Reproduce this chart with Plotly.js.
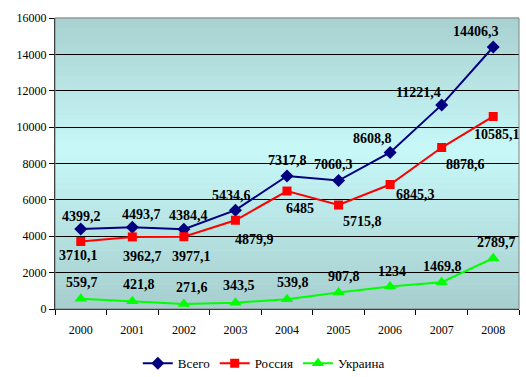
<!DOCTYPE html>
<html>
<head>
<meta charset="utf-8">
<script src="https://cdn.plot.ly/plotly-3.0.1.min.js"></script>
<style>html,body{margin:0;padding:0;background:#fff;}#chart{width:526px;height:377px;}</style>
</head>
<body>
<div id="chart"></div>
<script>
var years = ['2000','2001','2002','2003','2004','2005','2006','2007','2008'];
var vsego = [4399.2, 4493.7, 4384.4, 5434.6, 7317.8, 7060.3, 8608.8, 11221.4, 14406.3];
var rossiya = [3710.1, 3962.7, 3977.1, 4879.9, 6485, 5715.8, 6845.3, 8878.6, 10585.1];
var ukraina = [559.7, 421.8, 271.6, 343.5, 539.8, 907.8, 1234, 1469.8, 2789.7];
var yTicks = [0, 2000, 4000, 6000, 8000, 10000, 12000, 14000, 16000];
var names = ['Всего', 'Россия', 'Украина'];

function fmt(v){ return String(v).replace('.', ','); }

// label offsets in px [dx, dy], dy positive = up
var offV = [[1,12],[9,13],[5,14],[-4,15],[0,15],[-5,16],[-18,14],[-23,12],[-17,15]];
var offR = [[-2,-14],[10,-20],[8,-20],[19,-19],[13,-17],[24,-16],[25,-10],[24,-17],[4,-18]];
var offU = [[1,16],[7,17],[8,17],[4,17],[6,17],[5,16],[2,15],[1,16],[3,16]];

var serif = "Times New Roman, Liberation Serif, DejaVu Serif, serif";
var labelFont = {family:serif, size:14, color:'#000', weight:'bold'};
var tickFont = {family:serif, size:12, color:'#000'};

var traces = [
  {x: years, y: vsego, name: names[0], mode:'lines+markers', line:{color:'#000080', width:2}, marker:{symbol:'diamond', size:10, color:'#000080'}},
  {x: years, y: rossiya, name: names[1], mode:'lines+markers', line:{color:'#FF0000', width:2}, marker:{symbol:'square', size:9, color:'#FF0000'}},
  {x: years, y: ukraina, name: names[2], mode:'lines+markers', line:{color:'#00FF00', width:2}, marker:{symbol:'triangle-up', size:11, color:'#00FF00'}}
];

var annotations = [];
function addLabels(vals, offs){
  for (var i=0;i<vals.length;i++){
    annotations.push({x: i, y: vals[i], xref:'x', yref:'y', text: fmt(vals[i]), showarrow:false,
      xshift: offs[i][0], yshift: offs[i][1], font: labelFont, xanchor:'center', yanchor:'middle'});
  }
}
addLabels(vsego, offV);
addLabels(rossiya, offR);
addLabels(ukraina, offU);

// gradient background stripes
var shapes = [];
var N = 60;
function lerp(a,b,t){return Math.round(a+(b-a)*t);}
var cTop=[168,208,208], cMid=[200,248,248], cBot=[166,206,206];
for (var i=0;i<N;i++){
  var t0=i/N, t1=(i+1)/N, tm=(i+0.5)/N;
  var c;
  if (tm < 0.55) { var s = tm/0.55; c=[lerp(cBot[0],cMid[0],s),lerp(cBot[1],cMid[1],s),lerp(cBot[2],cMid[2],s)]; }
  else { var s2=(tm-0.55)/0.45; c=[lerp(cMid[0],cTop[0],s2),lerp(cMid[1],cTop[1],s2),lerp(cMid[2],cTop[2],s2)]; }
  shapes.push({type:'rect', xref:'paper', yref:'paper', x0:0, x1:1, y0:t0, y1:t1+0.002, layer:'below', line:{width:0}, fillcolor:'rgb('+c.join(',')+')'});
}
shapes.push({type:'rect', xref:'paper', yref:'paper', x0:0, x1:1, y0:0, y1:1, layer:'above', line:{color:'#808080', width:1}, fillcolor:'rgba(0,0,0,0)'});

var layout = {
  width:526, height:377,
  margin:{l:55, r:7, t:18, b:68, autoexpand:false},
  paper_bgcolor:'#ffffff',
  plot_bgcolor:'rgba(0,0,0,0)',
  font:{family:serif},
  shapes: shapes,
  annotations: annotations,
  showlegend:true,
  legend:{orientation:'h', x:0.45, xanchor:'center', y:-0.135, yanchor:'top', font:{family:serif, size:13, color:'#000'}, itemwidth:30, tracegroupgap:0},
  xaxis:{type:'category', tickson:'boundaries', ticks:'outside', ticklen:5, tickcolor:'#000', showline:true, linecolor:'#000', linewidth:1, showgrid:false, tickfont:tickFont, ticklabelstandoff:10, range:[-0.5, 8.5], fixedrange:true},
  yaxis:{range:[0,16000], tickvals:yTicks, ticktext:yTicks.map(String), ticks:'outside', ticklen:5, tickcolor:'#000', showline:true, linecolor:'#000', linewidth:1, showgrid:true, gridcolor:'#000', gridwidth:1, zeroline:false, tickfont:tickFont, fixedrange:true}
};

Plotly.newPlot('chart', traces, layout, {displayModeBar:false, staticPlot:true});
</script>
</body>
</html>
